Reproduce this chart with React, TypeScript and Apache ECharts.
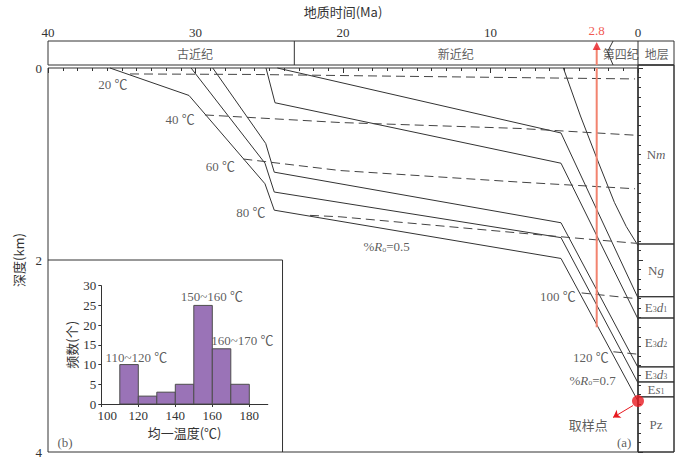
import React, { useEffect, useRef } from "react";
import * as echarts from "echarts";

const SERIF = "'Liberation Serif', 'Times New Roman', 'Noto Sans CJK SC', serif";
const CJK = "'Noto Sans CJK SC', 'Liberation Serif', sans-serif";
const INK = "#333333";
const RED = "#e8191f";
const SALMON = "#f2836f";

// ---- burial history paths: [time (Ma), depth (km)]
const burialEs1Base = [[35.8, 0], [30.44, 0.286], [25.29, 1.206], [24.66, 1.481], [5.22, 1.984], [0, 3.47]];
const burialE3d3Base = [[30.3, 0], [25.29, 0.992], [24.66, 1.292], [5.22, 1.767], [0, 3.28]];
const burialE3d2Base = [[28.83, 0], [25.24, 0.786], [24.66, 1.085], [5.22, 1.612], [0, 3.12]];
const burialE3d1Base = [[25.22, 0], [24.61, 0.362], [5.22, 0.992], [0, 2.615]];
const burialNgBase = [[24.45, 0], [5.22, 0.677], [0, 2.395]];
const burialNmBase = [[5.06, 0], [3.9, 0.5], [2.64, 1.0], [1.6, 1.4], [0.8, 1.65], [0, 1.85]];
const burialPaths = [burialEs1Base, burialE3d3Base, burialE3d2Base, burialE3d1Base, burialNgBase, burialNmBase];

// ---- isotherms: [time (Ma), depth (km)]
const iso20 = [[34.44, 0.062], [26.3, 0.067], [16.14, 0.086], [0.2, 0.114]];
const iso40 = [[29.36, 0.489], [20.2, 0.568], [8.0, 0.63], [0.2, 0.7]];
const iso60 = [[26.76, 0.948], [20.2, 1.068], [8.0, 1.189], [0.2, 1.258]];
const iso80 = [[22.24, 1.535], [20.2, 1.55], [5.29, 1.757], [0.14, 1.826]];
const iso100 = [[3.82, 2.343], [0.07, 2.403]];
const iso120 = [[1.67, 2.956], [0.09, 2.98]];
const isotherms = [iso20, iso40, iso60, iso80, iso100, iso120];

// ---- annotations in the burial plot
const annotTexts = ["20 ℃", "40 ℃", "60 ℃", "80 ℃", "100 ℃", "120 ℃", "%{i|R}{s|o}=0.5", "%{i|R}{s|o}=0.7", "取样点", "(a)", "(b)"];
const annotPos = [[35.6, 0.172], [31.05, 0.541], [28.32, 1.027], [26.25, 1.506], [5.44, 2.377], [3.2, 3.015], [17.04, 1.86], [3.08, 3.25], [3.37, 3.728], [0.94, 3.904], [38.85, 3.904]];

// ---- sampling point & 2.8 Ma marker
const samplePoint = [0, 3.47];
const sampleArrow = [[0.34, 3.516], [1.69, 3.64]];
const markerAge = 2.8;
const markerBottomDepth = 2.7;

// ---- inset frame (time, depth)
const insetFrame = [[40, 2], [24.1, 2], [24.1, 4]];

// ---- strata column
const strataLabels = ["{n|N}{i|m}", "{n|N}{i|g}", "{n|E}{s|3}{i|d}{s|1}", "{n|E}{s|3}{i|d}{s|2}", "{n|E}{s|3}{i|d}{s|3}", "{n|E}{i|s}{s|1}", "{n|Pz}"];
const strataTop = [0, 1.85, 2.395, 2.615, 3.12, 3.276, 3.43];
const strataBottom = [1.85, 2.395, 2.615, 3.12, 3.276, 3.43, 4];

// ---- header (periods)
const periodNames = ["古近纪", "新近纪", "第四纪", "地层"];
const periodCenters = [30.03, 12.35, 1.17, -1.27];
const paleoNeoBoundary = 23.3;
const neoQuatZigzag = [[1.69, 1], [2.07, 0.55], [1.69, 0]];

// ---- histogram (b)
const binStart = [110, 120, 130, 140, 150, 160, 170];
const binWidth = 10;
const binCount = [10, 2, 3, 5, 25, 14, 5];
const histLabels = ["110~120 ℃", "150~160 ℃", "160~170 ℃"];
const histLabelPos = [[119.0, 11.8], [159.8, 27.2], [176.3, 16.2]];

const rich = {
  n: { fontFamily: SERIF, fontSize: 13, color: INK },
  i: { fontFamily: SERIF, fontSize: 13, color: INK, fontStyle: "italic" },
  s: { fontFamily: SERIF, fontSize: 8, color: INK, verticalAlign: "bottom", padding: [5, 0, 0, 0] },
};

const labelScatter = (xi: number, yi: number, data: any[], font: string, size: number, color = INK) => ({
  type: "scatter",
  xAxisIndex: xi,
  yAxisIndex: yi,
  silent: true,
  symbolSize: 1,
  itemStyle: { color: "transparent" },
  z: 10,
  label: {
    show: true,
    position: "inside",
    formatter: (p: any) => p.name,
    fontFamily: font,
    fontSize: size,
    color,
    rich,
  },
  data,
});

const lineSeries = (data: number[][], xi: number, yi: number, style: any, extra: any = {}) => ({
  type: "line",
  xAxisIndex: xi,
  yAxisIndex: yi,
  data,
  symbol: "none",
  silent: true,
  clip: false,
  lineStyle: style,
  ...extra,
});

const hiddenAxis = (gridIndex: number, min: number, max: number, inverse = false) => ({
  gridIndex,
  type: "value",
  min,
  max,
  inverse,
  show: false,
});

const option: any = {
  animation: false,
  backgroundColor: "#ffffff",
  grid: [
    { left: 48, top: 65, width: 590, height: 387, show: true, borderColor: INK, borderWidth: 1 },
    { left: 638, top: 65, width: 36, height: 387, show: true, borderColor: INK, borderWidth: 1 },
    { left: 48, top: 41, width: 626, height: 24, show: true, borderColor: INK, borderWidth: 1 },
    { left: 101.3, top: 285.7, width: 166.5, height: 118.3 },
  ],
  xAxis: [
    {
      gridIndex: 0,
      type: "value",
      min: 0,
      max: 40,
      interval: 10,
      inverse: true,
      position: "top",
      offset: 24,
      name: "地质时间(Ma)",
      nameLocation: "middle",
      nameGap: 26,
      nameTextStyle: { fontFamily: CJK, fontSize: 13, color: INK },
      axisLine: { show: false },
      axisTick: { show: true, inside: true, length: 5, lineStyle: { color: INK } },
      minorTick: { show: true, splitNumber: 10, length: 3, lineStyle: { color: INK } },
      axisLabel: { fontFamily: SERIF, fontSize: 13, color: INK, margin: 5, showMinLabel: true, showMaxLabel: true },
      splitLine: { show: false },
    },
    hiddenAxis(1, 0, 1),
    hiddenAxis(2, 40 - (674 - 48) / ((638 - 48) / 40), 40, true),
    {
      gridIndex: 3,
      type: "value",
      min: 100,
      max: 190,
      interval: 20,
      name: "均一温度(℃)",
      nameLocation: "middle",
      nameGap: 22,
      nameTextStyle: { fontFamily: CJK, fontSize: 13, color: INK },
      axisLine: { show: true, lineStyle: { color: INK } },
      axisTick: { show: true, length: 3, lineStyle: { color: INK } },
      axisLabel: {
        fontFamily: SERIF,
        fontSize: 13,
        color: INK,
        margin: 5,
        showMaxLabel: false,
        formatter: (v: number) => (v === 100 ? "{m|" + v + "}" : String(v)),
        rich: { m: { fontFamily: SERIF, fontSize: 13, color: INK, padding: [0, 0, 0, 12] } },
      },
      splitLine: { show: false },
    },
  ],
  yAxis: [
    {
      gridIndex: 0,
      type: "value",
      min: 0,
      max: 4,
      interval: 2,
      inverse: true,
      name: "深度(km)",
      nameLocation: "middle",
      nameGap: 16,
      nameTextStyle: { fontFamily: CJK, fontSize: 13, color: INK },
      axisLine: { show: false },
      axisTick: { show: true, inside: true, length: 5, lineStyle: { color: INK } },
      minorTick: { show: true, splitNumber: 20, length: 3, lineStyle: { color: INK } },
      axisLabel: { fontFamily: SERIF, fontSize: 13, color: INK, margin: 6, showMinLabel: true, showMaxLabel: true },
      splitLine: { show: false },
    },
    hiddenAxis(1, 0, 4, true),
    hiddenAxis(2, 0, 1),
    {
      gridIndex: 3,
      type: "value",
      min: 0,
      max: 30,
      interval: 5,
      name: "频数(个)",
      nameLocation: "middle",
      nameGap: 23,
      nameTextStyle: { fontFamily: CJK, fontSize: 13, color: INK },
      axisLine: { show: true, lineStyle: { color: INK } },
      axisTick: { show: true, length: 3, lineStyle: { color: INK } },
      axisLabel: { fontFamily: SERIF, fontSize: 13, color: INK, margin: 5 },
      splitLine: { show: false },
    },
  ],
  series: [
    ...burialPaths.map((p) => lineSeries(p, 0, 0, { color: INK, width: 1 })),
    ...isotherms.map((p) => lineSeries(p, 0, 0, { color: "#444", width: 1, type: [9, 5] })),
    lineSeries(insetFrame, 0, 0, { color: INK, width: 1 }),
    lineSeries([[markerAge, 0], [markerAge, markerBottomDepth]], 0, 0, { color: SALMON, width: 2 }),
    {
      type: "scatter",
      xAxisIndex: 0,
      yAxisIndex: 0,
      silent: true,
      clip: false,
      z: 20,
      symbolSize: 12,
      itemStyle: { color: RED },
      data: [samplePoint],
      markLine: {
        silent: true,
        symbol: ["none", "arrow"],
        symbolSize: 7,
        lineStyle: { color: RED, width: 1, type: "solid" },
        label: { show: false },
        data: [[{ coord: sampleArrow[0] }, { coord: sampleArrow[1] }]],
      },
    },
    labelScatter(0, 0, annotTexts.map((t, i) => ({ name: t, value: annotPos[i] })), SERIF + ", " + CJK, 13),
    {
      type: "custom",
      xAxisIndex: 1,
      yAxisIndex: 1,
      silent: true,
      renderItem: (params: any, api: any) => {
        const a = api.coord([0, api.value(0)]);
        const b = api.coord([1, api.value(1)]);
        return {
          type: "rect",
          shape: { x: a[0], y: a[1], width: b[0] - a[0], height: b[1] - a[1] },
          style: { fill: "none", stroke: INK, lineWidth: 1 },
        };
      },
      encode: { y: [0, 1] },
      data: strataTop.map((t, i) => [t, strataBottom[i]]),
    },
    labelScatter(1, 1, strataLabels.map((t, i) => ({ name: t, value: [0.5, (strataTop[i] + strataBottom[i]) / 2] })), SERIF, 13),
    lineSeries([[paleoNeoBoundary, 0], [paleoNeoBoundary, 1]], 2, 2, { color: INK, width: 1 }),
    lineSeries([[0, 0], [0, 1]], 2, 2, { color: INK, width: 1 }),
    lineSeries(neoQuatZigzag, 2, 2, { color: INK, width: 1 }),
    labelScatter(2, 2, periodNames.map((t, i) => ({ name: t, value: [periodCenters[i], 0.5] })), CJK, 12),
    lineSeries([[markerAge, 0], [markerAge, 0.7]], 2, 2, { color: SALMON, width: 2 }),
    {
      type: "scatter",
      xAxisIndex: 2,
      yAxisIndex: 2,
      silent: true,
      clip: false,
      z: 20,
      symbol: "triangle",
      symbolSize: [8, 8],
      itemStyle: { color: RED },
      label: {
        show: true,
        position: "top",
        distance: 5,
        formatter: () => String(markerAge),
        fontFamily: SERIF,
        fontSize: 13,
        color: "#ee2a24",
      },
      data: [[markerAge, 0.79]],
    },
    {
      type: "custom",
      xAxisIndex: 3,
      yAxisIndex: 3,
      silent: true,
      renderItem: (params: any, api: any) => {
        const a = api.coord([api.value(0), api.value(2)]);
        const b = api.coord([api.value(1), 0]);
        return {
          type: "rect",
          shape: { x: a[0], y: a[1], width: b[0] - a[0], height: b[1] - a[1] },
          style: { fill: "#9a73b7", stroke: "#4d4d4d", lineWidth: 1 },
        };
      },
      encode: { x: [0, 1], y: 2 },
      data: binStart.map((s, i) => [s, s + binWidth, binCount[i]]),
    },
    labelScatter(3, 3, histLabels.map((t, i) => ({ name: t, value: histLabelPos[i] })), SERIF + ", " + CJK, 13),
  ],
};

export default function App() {
  const ref = useRef<HTMLDivElement>(null);
  useEffect(() => {
    const chart = echarts.init(ref.current as HTMLDivElement, null, { renderer: "svg" });
    chart.setOption(option);
    return () => chart.dispose();
  }, []);
  return <div ref={ref} style={{ position: "fixed", left: 0, top: 0, width: 692, height: 459 }} />;
}
